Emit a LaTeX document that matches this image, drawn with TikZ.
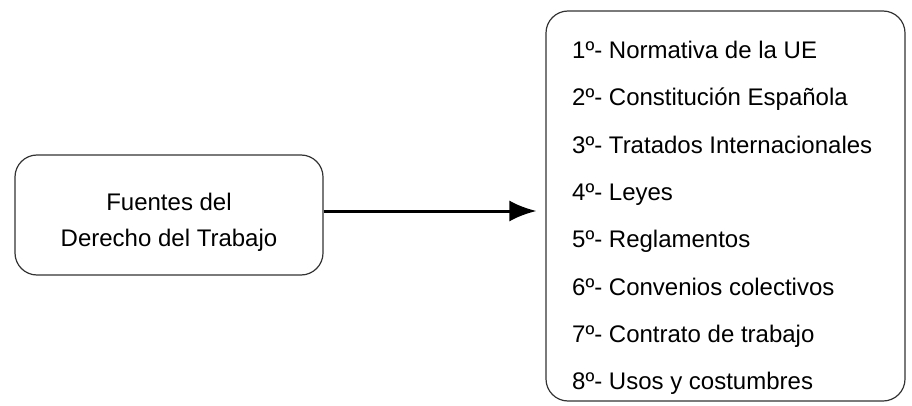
\documentclass[tikz,border=0pt]{standalone}
\usepackage{fontspec}
\setmainfont{Liberation Sans}
\usetikzlibrary{arrows.meta,positioning}

\begin{document}
\begin{tikzpicture}[x=1pt, y=-1pt,
    box/.style = {draw=black!80, line width=1.2pt, rounded corners=22pt},
    item/.style = {anchor=base west, inner sep=0pt, font=\fontsize{24}{28}\selectfont},
    link/.style = {line width=3pt, -{Latex[length=27pt,width=21pt]}, shorten >=9pt}]
  \useasboundingbox (0,0) rectangle (912,406);
  % source box on the left
  \node[box, minimum width=308pt, minimum height=120pt] (fuentes) at (169,215) {};
  \node[align=center, font=\fontsize{24}{36}\selectfont] (fuentestxt) at (169,222.5)
    {Fuentes del\\Derecho del Trabajo};
  % ordered list on the right
  \node[box, minimum width=359pt, minimum height=390pt] (orden) at (725.5,206) {};
  \foreach \n/\txt [count=\i from 0] in {
      1/Normativa de la UE,
      2/Constitución Española,
      3/Tratados Internacionales,
      4/Leyes,
      5/Reglamentos,
      6/Convenios colectivos,
      7/Contrato de trabajo,
      8/Usos y costumbres}
    \node[item] (fuente\n) at (572,58.6+47.3*\i) {\n º- \txt};
  \draw[link] ([yshift=4pt]fuentes.east) -- ([yshift=4pt]fuentes.east -| orden.west);
\end{tikzpicture}
\end{document}
